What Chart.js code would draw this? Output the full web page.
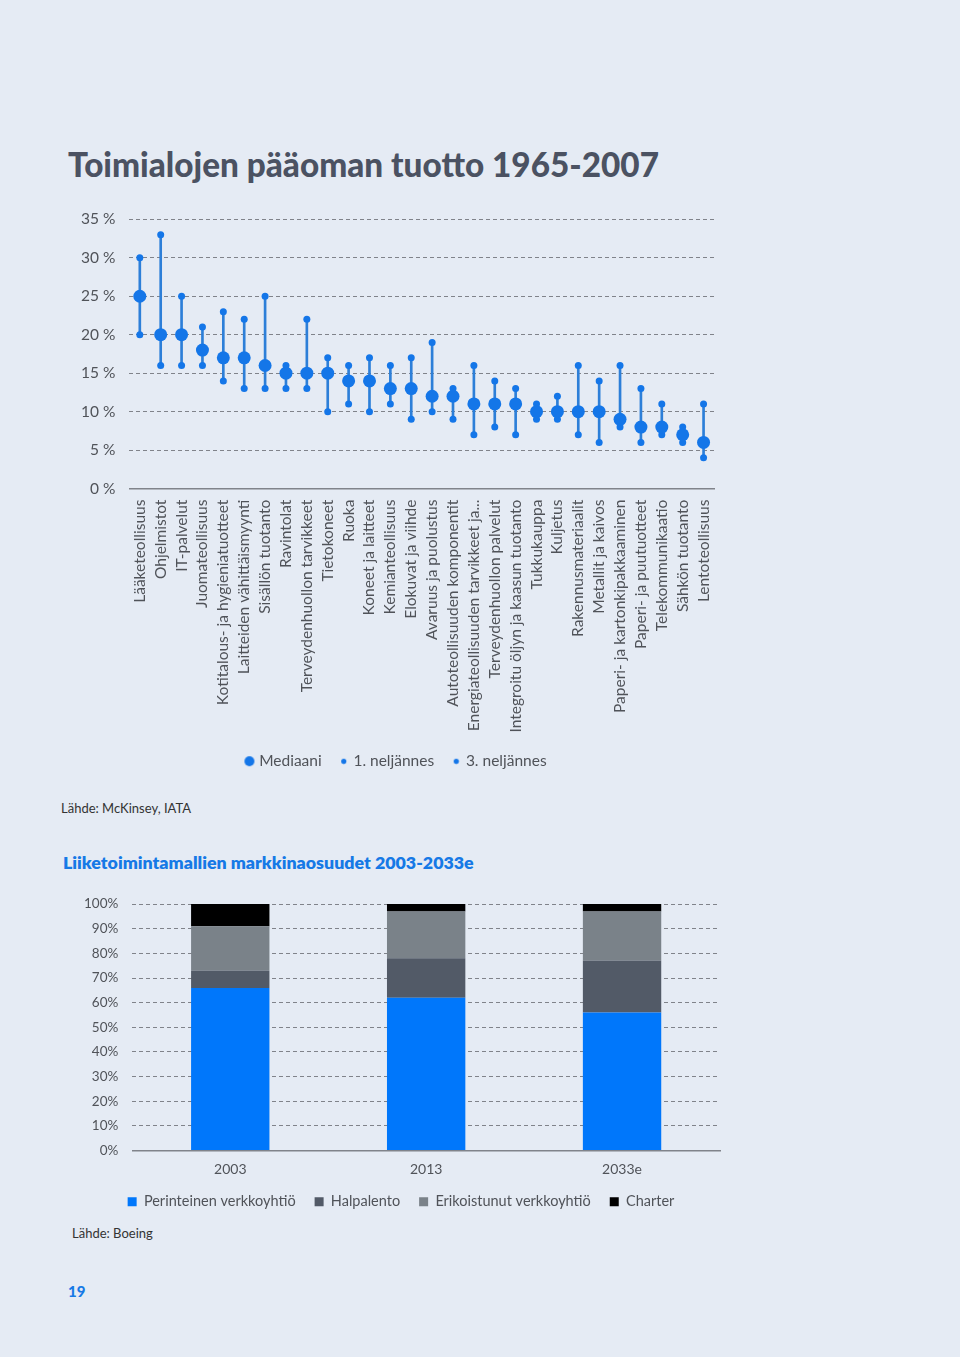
<!DOCTYPE html>
<html>
<head>
<meta charset="utf-8">
<script src="https://cdn.jsdelivr.net/npm/chart.js@4/dist/chart.umd.min.js"></script>
<style>
  body { margin: 0; background: #e5ebf4; font-family: Lato, "Noto Sans", sans-serif; }
  #page { position: relative; width: 960px; height: 1357px; overflow: hidden; }
  .abs { position: absolute; }
  #title1 { left: 68px; top: 144px; font-size: 33.3px; font-weight: 900; color: #4b5262; }
  #src1 { left: 61px; top: 800px; font-size: 13px; color: #333; }
  #title2 { left: 63px; top: 851px; font-size: 17.8px; font-weight: 800; color: #1679e6; }
  #src2 { left: 72px; top: 1225px; font-size: 13px; color: #333; }
  #pagenum { left: 68px; top: 1282px; font-size: 15px; font-weight: 900; color: #1679e6; }
  #wrap1 { left: 60px; top: 196px; width: 680px; height: 583px; }
  #wrap2 { left: 60px; top: 882px; width: 680px; height: 337px; }
</style>
</head>
<body>
<div id="page">
  <div id="title1" class="abs">Toimialojen pääoman tuotto 1965-2007</div>
  <div id="wrap1" class="abs"><canvas id="returns"></canvas></div>
  <div id="src1" class="abs">Lähde: McKinsey, IATA</div>
  <div id="title2" class="abs">Liiketoimintamallien markkinaosuudet 2003-2033e</div>
  <div id="wrap2" class="abs"><canvas id="shares"></canvas></div>
  <div id="src2" class="abs">Lähde: Boeing</div>
  <div id="pagenum" class="abs">19</div>
</div>
<script>
// Toimialat ja tuotot (%)
const industries = [
  'Lääketeollisuus', 'Ohjelmistot', 'IT-palvelut', 'Juomateollisuus',
  'Kotitalous- ja hygieniatuotteet', 'Laitteiden vähittäismyynti', 'Sisällön tuotanto',
  'Ravintolat', 'Terveydenhuollon tarvikkeet', 'Tietokoneet', 'Ruoka', 'Koneet ja laitteet',
  'Kemianteollisuus', 'Elokuvat ja viihde', 'Avaruus ja puolustus',
  'Autoteollisuuden komponentit', 'Energiateollisuuden tarvikkeet ja...',
  'Terveydenhuollon palvelut', 'Integroitu öljyn ja kaasun tuotanto', 'Tukkukauppa',
  'Kuljetus', 'Rakennusmateriaalit', 'Metallit ja kaivos', 'Paperi- ja kartonkipakkaaminen',
  'Paperi- ja puutuotteet', 'Telekommunikaatio', 'Sähkön tuotanto', 'Lentoteollisuus'
];
const median = [25, 20, 20, 18, 17, 17, 16, 15, 15, 15, 14, 14, 13, 13, 12, 12, 11, 11, 11, 10, 10, 10, 10, 9, 8, 8, 7, 6];
const q1 =     [20, 16, 16, 16, 14, 13, 13, 13, 13, 10, 11, 10, 11, 9, 10, 9, 7, 8, 7, 9, 9, 7, 6, 8, 6, 7, 6, 4];
const q3 =     [30, 33, 25, 21, 23, 22, 25, 16, 22, 17, 16, 17, 16, 17, 19, 13, 16, 14, 13, 11, 12, 16, 14, 16, 13, 11, 8, 11];
const returnTicks = [0, 5, 10, 15, 20, 25, 30, 35];

// Markkinaosuudet (%)
const years = ['2003', '2013', '2033e'];
const traditional = [66, 62, 56];
const lowCost = [7, 16, 21];
const specialized = [18, 19, 20];
const charter = [9, 3, 3];

const blue = '#1476e8';
const lineBlue = '#2d7fd8';
const gridGray = '#80838a';
const textGray = '#505359';

function dot(r) {
    const c = document.createElement('canvas');
    c.width = c.height = r * 2 + 2;
    const g = c.getContext('2d');
    g.fillStyle = blue;
    g.beginPath();
    g.arc(r + 1, r + 1, r, 0, Math.PI * 2);
    g.fill();
    return c;
}
const legendDots = { 'Mediaani': dot(5), '1. neljännes': dot(2.6), '3. neljännes': dot(2.6) };

const ctx1 = document.getElementById('returns').getContext('2d');
new Chart(ctx1, {
    data: {
        labels: industries,
        datasets: [
            {
                type: 'bar',
                label: 'range',
                data: q1.map((v, i) => [v, q3[i]]),
                backgroundColor: lineBlue,
                barThickness: 2,
                order: 3
            },
            {
                type: 'line', label: 'Mediaani', data: median, showLine: false,
                pointRadius: 6.5, pointHoverRadius: 6.5, pointBackgroundColor: blue, pointBorderWidth: 0,
                borderColor: blue, order: 0
            },
            {
                type: 'line', label: '1. neljännes', data: q1, showLine: false,
                pointRadius: 3.5, pointHoverRadius: 3.5, pointBackgroundColor: blue, pointBorderWidth: 0,
                borderColor: blue, order: 1
            },
            {
                type: 'line', label: '3. neljännes', data: q3, showLine: false,
                pointRadius: 3.5, pointHoverRadius: 3.5, pointBackgroundColor: blue, pointBorderWidth: 0,
                borderColor: blue, order: 1
            }
        ]
    },
    options: {
        responsive: true,
        maintainAspectRatio: false,
        animation: false,
        layout: { padding: { top: 0, right: 26, bottom: 0, left: 20 } },
        plugins: {
            tooltip: { enabled: false },
            legend: {
                position: 'bottom',
                labels: {
                    color: textGray,
                    font: { family: 'Lato', size: 15.5 },
                    usePointStyle: true,
                    boxWidth: 4,
                    padding: 20,
                    filter: item => item.text !== 'range',
                    generateLabels: chart => Chart.defaults.plugins.legend.labels.generateLabels(chart)
                        .map(it => Object.assign(it, { pointStyle: legendDots[it.text] || it.pointStyle }))
                }
            }
        },
        scales: {
            x: {
                offset: true,
                grid: { display: false, drawTicks: false },
                border: { display: true, color: gridGray, width: 1.5 },
                afterFit: axis => { axis.height -= 10; },
                ticks: {
                    color: textGray,
                    font: { family: 'Lato', size: 15.5 },
                    minRotation: 90, maxRotation: 90,
                    autoSkip: false,
                    padding: 11
                }
            },
            y: {
                min: 0, max: 35,
                afterBuildTicks: axis => { axis.ticks = returnTicks.map(v => ({ value: v })); },
                afterFit: axis => { axis.width -= 13; },
                grid: { color: gridGray, drawTicks: false, lineWidth: 1 },
                border: { display: false, dash: [4, 3] },
                ticks: {
                    color: textGray,
                    font: { family: 'Lato', size: 15.5 },
                    padding: 14,
                    callback: v => v + ' %'
                }
            }
        }
    }
});

const ctx2 = document.getElementById('shares').getContext('2d');
new Chart(ctx2, {
    type: 'bar',
    data: {
        labels: years,
        datasets: [
            { label: 'Perinteinen verkkoyhtiö', data: traditional, backgroundColor: '#0077fb' },
            { label: 'Halpalento', data: lowCost, backgroundColor: '#525a67' },
            { label: 'Erikoistunut verkkoyhtiö', data: specialized, backgroundColor: '#7a8289' },
            { label: 'Charter', data: charter, backgroundColor: '#000000' }
        ]
    },
    options: {
        responsive: true,
        maintainAspectRatio: false,
        animation: false,
        categoryPercentage: 1,
        barPercentage: 0.4,
        layout: { padding: { top: 0, right: 20, bottom: 0, left: 22 } },
        plugins: {
            tooltip: { enabled: false },
            legend: {
                position: 'bottom',
                labels: {
                    color: textGray,
                    font: { family: 'Lato', size: 14.5 },
                    boxWidth: 9, boxHeight: 9,
                    padding: 19
                }
            }
        },
        scales: {
            x: {
                stacked: true,
                grid: { display: false, drawTicks: false },
                border: { display: true, color: gridGray, width: 1.5 },
                afterFit: axis => { axis.height -= 13; },
                ticks: { color: textGray, font: { family: 'Lato', size: 14, lineHeight: 1 }, padding: 12 }
            },
            y: {
                stacked: true,
                min: 0, max: 100,
                afterFit: axis => { axis.width -= 12; },
                ticks: {
                    stepSize: 10,
                    color: textGray,
                    font: { family: 'Lato', size: 13.5 },
                    padding: 14,
                    callback: v => v + '%'
                },
                grid: { color: gridGray, drawTicks: false },
                border: { display: false, dash: [4, 3] }
            }
        }
    }
});
</script>
</body>
</html>
